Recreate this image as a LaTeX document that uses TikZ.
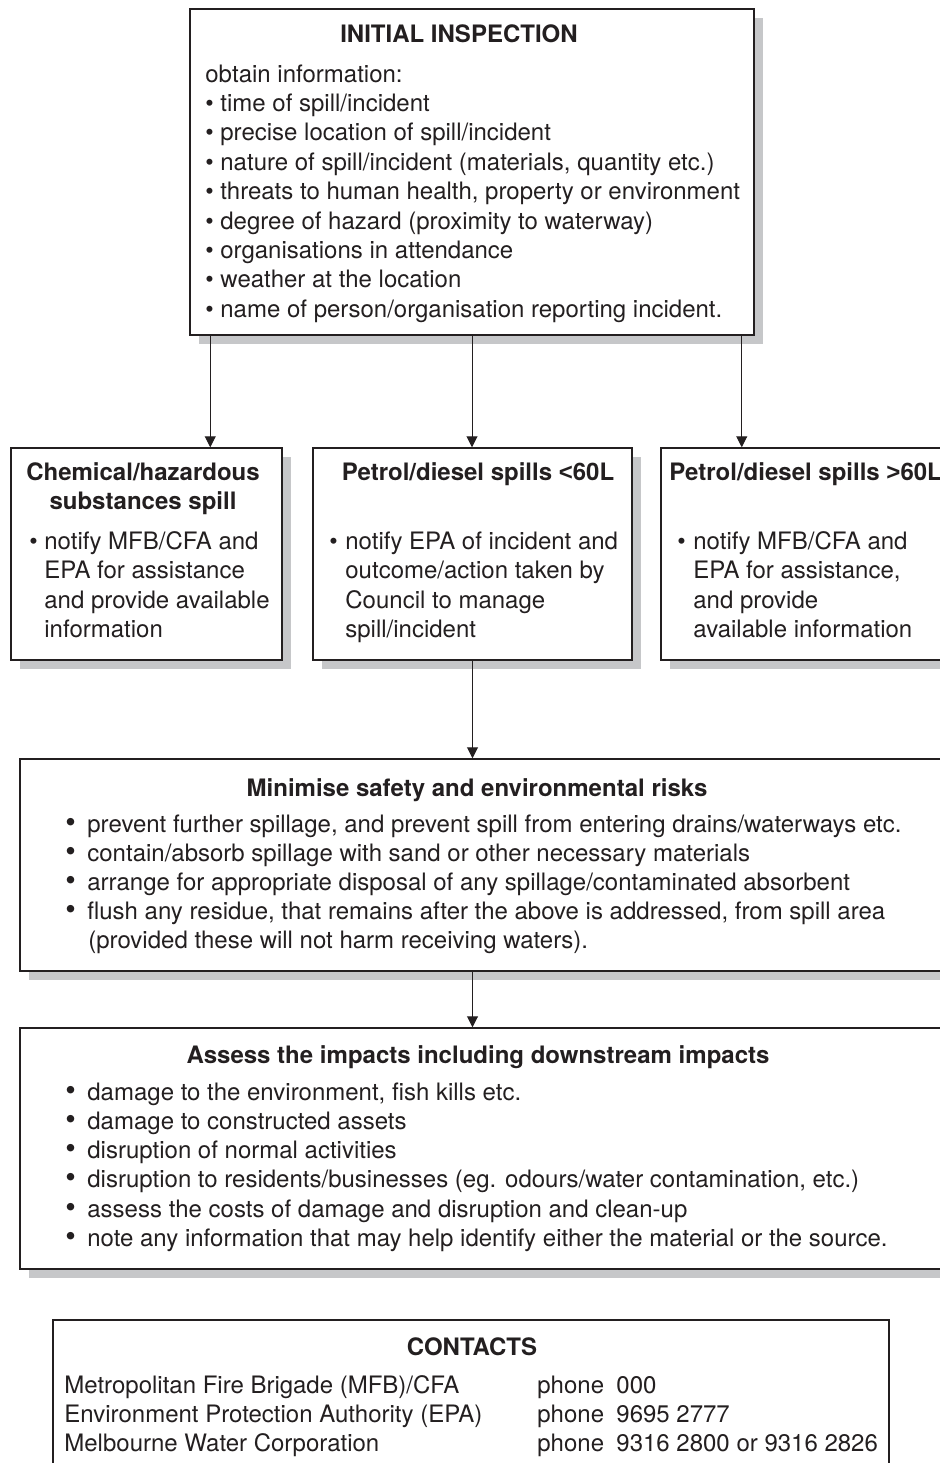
\documentclass[tikz,border=0pt]{standalone}
\usepackage{fontspec}
\setmainfont{TeX Gyre Heros}
\newfontfamily\arialfont{Liberation Sans}
\usepackage{tikz}
\usetikzlibrary{arrows.meta,shadows}
\definecolor{ink}{HTML}{231F20}
\definecolor{shade}{HTML}{C6C7C9}

\begin{document}
\begin{tikzpicture}[x=0.5pt, y=-0.5pt,
        every node/.style={font=\fontsize{12pt}{14.75pt}\selectfont, text=ink, inner sep=0pt},
        box/.style={draw=ink, line width=0.75pt, fill=white,
            general shadow={fill=shade, shadow xshift=4.5pt, shadow yshift=-4.5pt}},
        plainbox/.style={draw=ink, line width=0.75pt, fill=white},
        txt/.style={anchor=base west},
        bigdot/.style={anchor=base west, font=\fontsize{15pt}{15pt}\selectfont},
        head/.style={anchor=base, font=\fontsize{12pt}{14.75pt}\selectfont\bfseries},
        arr/.style={draw=ink, line width=0.5pt, -{Triangle[length=5.5pt, width=5.5pt]}}]
        \clip (0,0) rectangle (940,1463);
        \fill[white] (0,0) rectangle (940,1463);
        % boxes
        \node[box, minimum width=282pt, minimum height=163pt] (inspect) at (472,172) {};
        \node[box, minimum width=135.5pt, minimum height=106pt] (chem) at (146.5,554) {};
        \node[box, minimum width=159.5pt, minimum height=106pt] (petlow) at (472.5,554) {};
        \node[box, minimum width=159.5pt, minimum height=106pt] (pethigh) at (820.5,554) {};
        \node[box, minimum width=470pt, minimum height=106pt] (minimise) at (490,865) {};
        \node[box, minimum width=470pt, minimum height=120.5pt] (assess) at (490,1148.5) {};
        \node[plainbox, minimum width=418pt, minimum height=85pt] (contacts) at (471,1405) {};
        % initial inspection
        \node[head] (inspect-t) at (459,42) {INITIAL INSPECTION};
        \node[txt] (inspect-0) at (205,82) {obtain information:};
        \foreach \s [count=\i] in {{time of spill/incident}, {precise location of spill/incident},
                {nature of spill/incident (materials, quantity etc.)},
                {threats to human health, property or environment},
                {degree of hazard (proximity to waterway)}, {organisations in attendance},
                {weather at the location}, {name of person/organisation reporting incident.}} {
            \node[txt] (inspect-b\i) at (205, 82+29.4*\i) {\textbullet};
            \node[txt] (inspect-\i) at (220, 82+29.4*\i) {\s};
        }
        % three kinds of spill
        \node[head] (chem-t1) at (143,480) {Chemical/hazardous};
        \node[head] (chem-t2) at (143,509.5) {substances spill};
        \node[txt] (chem-b) at (29,549) {\textbullet};
        \foreach \s [count=\i] in {{notify MFB/CFA and}, {EPA for assistance},
                {and provide available}, {information}}
            \node[txt] (chem-\i) at (44, 519.5+29.5*\i) {\s};
        \node[head] (petlow-t) at (478,480) {Petrol/diesel spills {\arialfont <}60L};
        \node[txt] (petlow-b) at (329,549) {\textbullet};
        \foreach \s [count=\i] in {{notify EPA of incident and}, {outcome/action taken by},
                {Council to manage}, {spill/incident}}
            \node[txt] (petlow-\i) at (345, 519.5+29.5*\i) {\s};
        \node[head, anchor=base west] (pethigh-t) at (669,480) {Petrol/diesel spills {\arialfont >}60L};
        \node[txt] (pethigh-b) at (677,549) {\textbullet};
        \foreach \s [count=\i] in {{notify MFB/CFA and}, {EPA for assistance,},
                {and provide}, {available information}}
            \node[txt] (pethigh-\i) at (693, 519.5+29.5*\i) {\s};
        % minimise risks
        \node[head] (minimise-t) at (477,796) {Minimise safety and environmental risks};
        \foreach \s [count=\i] in {{prevent further spillage, and prevent spill from entering drains/waterways etc.},
                {contain/absorb spillage with sand or other necessary materials},
                {arrange for appropriate disposal of any spillage/contaminated absorbent},
                {flush any residue, that remains after the above is addressed, from spill area}} {
            \node[bigdot] (minimise-b\i) at (65, 803+29*\i) {\textbullet};
            \node[txt] (minimise-\i) at (87, 803+29*\i) {\s};
        }
        \node[txt] (minimise-5) at (88,948) {(provided these will not harm receiving waters).};
        % assess impacts
        \node[head] (assess-t) at (478,1063) {Assess the impacts including downstream impacts};
        \foreach \s [count=\i] in {{damage to the environment, fish kills etc.},
                {damage to constructed assets}, {disruption of normal activities},
                {disruption to residents/businesses (eg. odours/water contamination, etc.)},
                {assess the costs of damage and disruption and clean-up},
                {note any information that may help identify either the material or the source.}} {
            \node[bigdot] (assess-b\i) at (65, 1070.7+29.3*\i) {\textbullet};
            \node[txt] (assess-\i) at (87, 1070.7+29.3*\i) {\s};
        }
        % contacts
        \node[head] (contacts-t) at (472,1355) {CONTACTS};
        \foreach \org/\num [count=\i] in {{Metropolitan Fire Brigade (MFB)/CFA}/000,
                {Environment Protection Authority (EPA)}/9695 2777,
                {Melbourne Water Corporation}/9316 2800 or 9316 2826} {
            \node[txt] (org-\i) at (64, 1364+29*\i) {\org};
            \node[txt] (phone-\i) at (537, 1364+29*\i) {phone};
            \node[txt] (num-\i) at (616, 1364+29*\i) {\num};
        }
        % arrows
        \coordinate (outl) at ([xshift=10.5pt]inspect.south west);
        \coordinate (outr) at ([xshift=-6.5pt]inspect.south east);
        \draw[arr] (outl) -- (outl |- chem.north);
        \draw[arr] (inspect.south) -- (inspect.south |- petlow.north);
        \draw[arr] (outr) -- (outr |- pethigh.north);
        \draw[arr] (petlow.south) -- (petlow.south |- minimise.north);
        \draw[arr] (petlow.south |- minimise.south) -- (petlow.south |- assess.north);
    \end{tikzpicture}
\end{document}
